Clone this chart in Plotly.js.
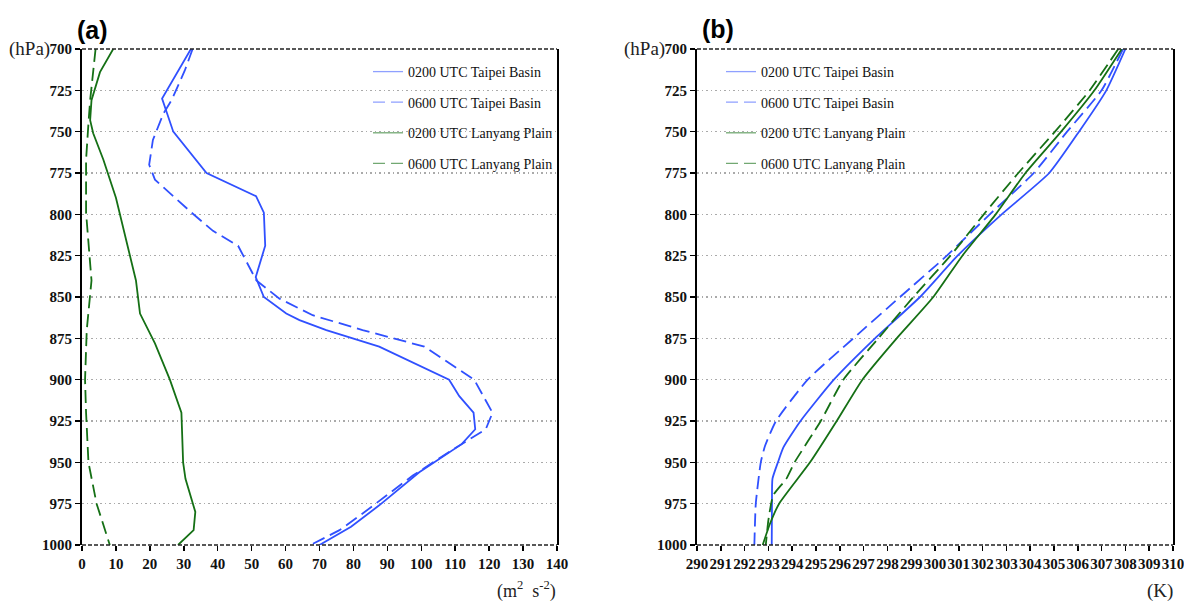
<!DOCTYPE html>
<html>
<head>
<meta charset="utf-8">
<script src="https://cdn.plot.ly/plotly-3.0.1.min.js"></script>
<style>html,body{margin:0;padding:0;background:#fff;}#chart{width:1184px;height:603px;}</style>
</head>
<body>
<div id="chart"></div>
<script>
// ---- Panel (a): values in m2 s-2 vs pressure (hPa) ----
const tb02_p = [700, 730, 750, 775, 789, 799, 819, 838, 850, 860, 864, 870, 880, 900, 910, 920, 930, 939, 956, 976, 989, 1000];
const tb02_v = [32.1, 23.6, 26.9, 36.7, 51.3, 53.6, 54.0, 51.2, 53.6, 60.2, 64.1, 72.0, 87.6, 108.2, 111.2, 115.4, 115.9, 111.9, 99.4, 87.6, 79.3, 70.0];
const tb06_p = [700, 713, 731, 739, 755, 770, 779, 799, 810, 819, 840, 851, 861, 870, 880, 900, 920, 930, 943, 958, 981, 991, 1000];
const tb06_v = [32.6, 30.3, 26.4, 24.0, 20.9, 19.8, 21.5, 32.3, 38.6, 46.0, 51.4, 58.2, 68.0, 82.7, 100.9, 115.6, 121.0, 119.0, 108.7, 97.5, 82.7, 75.9, 67.4];
const lp02_p = [700, 714, 731, 743, 751, 767, 790, 809, 840, 860, 878, 900, 920, 950, 960, 980, 991, 1000];
const lp02_v = [9.2, 5.3, 2.8, 2.4, 3.3, 6.3, 10.0, 12.2, 15.9, 17.1, 21.5, 25.9, 29.3, 29.8, 30.5, 33.4, 32.9, 28.3];
const lp06_p = [700, 731, 745, 767, 799, 840, 870, 900, 920, 950, 975, 1000];
const lp06_v = [4.0, 2.4, 1.9, 1.2, 1.2, 2.8, 1.4, 0.9, 1.2, 1.9, 4.3, 8.2];

// ---- Panel (b): potential temperature (K) vs pressure (hPa) ----
const tb02k_p = [700, 725, 750, 775, 800, 825, 850, 875, 900, 925, 941, 950, 960, 975, 1000];
const tb02k_t = [308.0, 307.2, 306.05, 304.8, 302.8, 300.95, 299.37, 297.48, 295.75, 294.35, 293.63, 293.4, 293.17, 293.15, 293.14];
const tb06k_p = [700, 725, 750, 775, 800, 825, 850, 875, 900, 925, 940, 950, 975, 1000];
const tb06k_t = [307.9, 307.0, 305.55, 304.15, 302.3, 300.5, 298.53, 296.57, 294.65, 293.32, 292.86, 292.68, 292.47, 292.41];
const lp02k_p = [700, 725, 750, 775, 800, 825, 850, 875, 900, 925, 950, 975, 987, 1000];
const lp02k_t = [307.85, 306.7, 305.3, 303.8, 302.55, 301.15, 299.93, 298.39, 296.95, 295.87, 294.75, 293.45, 293.07, 292.76];
const lp06k_p = [700, 725, 750, 775, 800, 825, 850, 875, 900, 925, 950, 960, 970, 985, 1000];
const lp06k_t = [307.7, 306.5, 305.04, 303.5, 302.05, 300.65, 299.09, 297.62, 296.15, 295.2, 294.1, 293.75, 293.2, 293.0, 292.89];

const seriesNames = ['0200 UTC Taipei Basin', '0600 UTC Taipei Basin', '0200 UTC Lanyang Plain', '0600 UTC Lanyang Plain'];
const pressureTicks = [700, 725, 750, 775, 800, 825, 850, 875, 900, 925, 950, 975, 1000];

const BLUE = '#3050ff', GREEN = '#157015';
const BLUE_L = '#8fa0ff', GREEN_L = '#72a872';
const DASH = '13px,6px';

function line(x, y, color, dash, xa, ya, shape) {
  return {x: x, y: y, type: 'scatter', mode: 'lines', xaxis: xa, yaxis: ya, showlegend: false,
    line: {color: color, width: 1.8, dash: dash, shape: shape || 'linear', smoothing: 0.5}, hoverinfo: 'skip'};
}
function legItem(name, color, dash, xa, ya, leg, grp) {
  return {x: [null], y: [null], type: 'scatter', mode: 'lines', xaxis: xa, yaxis: ya, name: name,
    legend: leg, legendgroup: grp, showlegend: true, line: {color: color, width: 1.3, dash: dash}};
}

const traces = [
  line(tb02_v, tb02_p, BLUE, 'solid', 'x', 'y'),
  line(tb06_v, tb06_p, BLUE, DASH, 'x', 'y'),
  line(lp02_v, lp02_p, GREEN, 'solid', 'x', 'y'),
  line(lp06_v, lp06_p, GREEN, DASH, 'x', 'y'),
  line(tb02k_t, tb02k_p, BLUE, 'solid', 'x2', 'y2', 'spline'),
  line(tb06k_t, tb06k_p, BLUE, DASH, 'x2', 'y2', 'spline'),
  line(lp02k_t, lp02k_p, GREEN, 'solid', 'x2', 'y2', 'spline'),
  line(lp06k_t, lp06k_p, GREEN, DASH, 'x2', 'y2', 'spline'),
  legItem(seriesNames[0], BLUE_L, 'solid', 'x', 'y', 'legend', 'a1'),
  legItem(seriesNames[1], BLUE_L, '12px,6px', 'x', 'y', 'legend', 'a2'),
  legItem(seriesNames[2], GREEN_L, 'solid', 'x', 'y', 'legend', 'a3'),
  legItem(seriesNames[3], GREEN_L, '12px,6px', 'x', 'y', 'legend', 'a4'),
  legItem(seriesNames[0], BLUE_L, 'solid', 'x2', 'y2', 'legend2', 'b1'),
  legItem(seriesNames[1], BLUE_L, '12px,6px', 'x2', 'y2', 'legend2', 'b2'),
  legItem(seriesNames[2], GREEN_L, 'solid', 'x2', 'y2', 'legend2', 'b3'),
  legItem(seriesNames[3], GREEN_L, '12px,6px', 'x2', 'y2', 'legend2', 'b4')
];

const W = 1184, TOP = 49, BOT = 545, PH = BOT - TOP;
const px = v => v / W;
const py = v => (BOT - v) / PH;

const tickFont = {family: 'Liberation Serif, DejaVu Serif, serif', size: 15, color: '#111', weight: 700};
const legFont = {family: 'Liberation Serif, DejaVu Serif, serif', size: 14, color: '#111'};
const unitFont = {family: 'Liberation Serif, DejaVu Serif, serif', size: 19, color: '#222'};
const panelFont = {family: 'Liberation Sans, Arial, sans-serif', size: 25, color: '#000', weight: 700};

function yAxis(anchor) {
  return {anchor: anchor, domain: [0, 1], range: [1000, 700], tickmode: 'array', tickvals: pressureTicks,
    ticktext: pressureTicks.map(String), ticks: 'outside', ticklen: 5, tickwidth: 1.5, tickcolor: '#000',
    showline: true, linecolor: '#000', linewidth: 2, mirror: true, showgrid: true, gridcolor: '#aaaaaa',
    griddash: '1.5px,3px', gridwidth: 1.2, zeroline: false, tickfont: tickFont, fixedrange: true,
    ticklabeloverflow: 'allow'};
}
function xAxis(anchor, domain, range, dtick) {
  return {anchor: anchor, domain: domain, range: range, dtick: dtick, tick0: range[0], ticks: 'outside',
    ticklen: 5, tickwidth: 1.5, tickcolor: '#000', showline: false, showgrid: false, zeroline: false,
    tickangle: 0, tickfont: tickFont, fixedrange: true, ticklabeloverflow: 'allow'};
}
function border(xr, yr, yv) {
  return {type: 'line', xref: xr + ' domain', yref: yr + ' domain', x0: 0, x1: 1, y0: yv, y1: yv,
    line: {color: '#222', width: 1.5, dash: '4px,2px'}, layer: 'above'};
}
function legendBox(xpx) {
  return {x: px(xpx), y: py(56), xanchor: 'left', yanchor: 'top', bgcolor: 'rgba(0,0,0,0)', borderwidth: 0,
    font: legFont, tracegroupgap: 9.4, itemwidth: 30};
}

const layout = {
  width: 1184, height: 603,
  margin: {l: 0, r: 0, t: TOP, b: 603 - BOT, pad: 0},
  paper_bgcolor: '#fff', plot_bgcolor: '#fff',
  showlegend: true,
  xaxis: xAxis('y', [px(82), px(557)], [0, 140], 10),
  yaxis: yAxis('x'),
  xaxis2: xAxis('y2', [px(697), px(1173)], [290, 310], 1),
  yaxis2: yAxis('x2'),
  legend: legendBox(368),
  legend2: legendBox(721),
  shapes: [border('x', 'y', 1), border('x', 'y', 0), border('x2', 'y2', 1), border('x2', 'y2', 0)],
  annotations: [
    {text: '(hPa)', xref: 'paper', yref: 'paper', x: px(52), y: 1, xanchor: 'right', yanchor: 'middle', showarrow: false, font: unitFont},
    {text: '(hPa)', xref: 'paper', yref: 'paper', x: px(667), y: 1, xanchor: 'right', yanchor: 'middle', showarrow: false, font: unitFont},
    {text: '(m<sup>2</sup>  s<sup>-2</sup>)', xref: 'paper', yref: 'paper', x: px(558), y: py(590), xanchor: 'right', yanchor: 'middle', showarrow: false, font: {family: unitFont.family, size: 18, color: '#222'}},
    {text: '(K)', xref: 'paper', yref: 'paper', x: px(1175), y: py(591), xanchor: 'right', yanchor: 'middle', showarrow: false, font: unitFont},
    {text: '(a)', xref: 'paper', yref: 'paper', x: px(75), y: py(30), xanchor: 'left', yanchor: 'middle', showarrow: false, font: panelFont},
    {text: '(b)', xref: 'paper', yref: 'paper', x: px(700), y: py(29), xanchor: 'left', yanchor: 'middle', showarrow: false, font: panelFont}
  ],
  hovermode: false
};

Plotly.newPlot('chart', traces, layout, {staticPlot: true, displayModeBar: false});
</script>
</body>
</html>
